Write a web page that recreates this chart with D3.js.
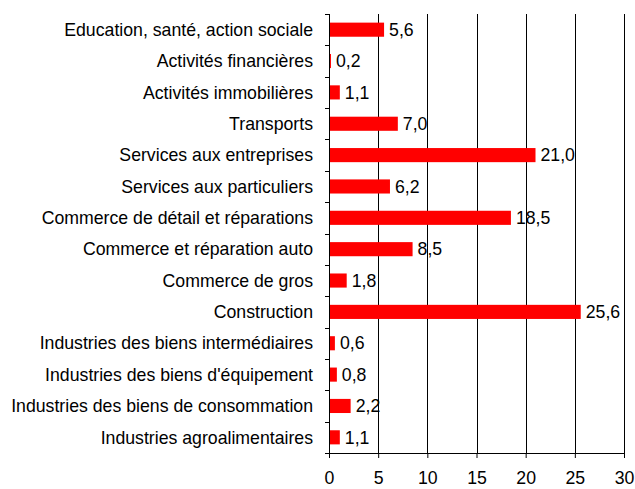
<!DOCTYPE html>
<html>
<head>
<meta charset="utf-8">
<script src="https://cdn.jsdelivr.net/npm/d3@7"></script>
<style>
  body { margin: 0; background: #fff; }
  text { font-family: "Liberation Sans", Arial, sans-serif; fill: #000; }
</style>
</head>
<body>
<div id="chart"></div>
<script>
// categories, top to bottom
let sectors = [
  "Education, santé, action sociale",
  "Activités financières",
  "Activités immobilières",
  "Transports",
  "Services aux entreprises",
  "Services aux particuliers",
  "Commerce de détail et réparations",
  "Commerce et réparation auto",
  "Commerce de gros",
  "Construction",
  "Industries des biens intermédiaires",
  "Industries des biens d'équipement",
  "Industries des biens de consommation",
  "Industries agroalimentaires"
];
let shares = [5.6, 0.2, 1.1, 7.0, 21.0, 6.2, 18.5, 8.5, 1.8, 25.6, 0.6, 0.8, 2.2, 1.1];
let xTicks = [0, 5, 10, 15, 20, 25, 30];

let fontSize = '17.7px';

let dimensions = {
  width: 635,
  height: 489,
  margin: { top: 14, right: 11, bottom: 36, left: 329 }
};
dimensions.boundedWidth = dimensions.width - dimensions.margin.left - dimensions.margin.right;
dimensions.boundedHeight = dimensions.height - dimensions.margin.top - dimensions.margin.bottom;

let svg = d3.select('#chart')
  .append('svg')
  .attr('width', dimensions.width)
  .attr('height', dimensions.height)
  .append('g')
  .attr('transform', `translate(${dimensions.margin.left},${dimensions.margin.top})`);

let x = d3.scaleLinear()
  .domain([0, 30])
  .range([0, dimensions.boundedWidth]);

let y = d3.scaleBand()
  .domain(sectors)
  .range([0, dimensions.boundedHeight])
  .paddingInner(0.55)
  .paddingOuter(0.275);

// vertical gridlines
svg.selectAll('line.grid')
  .data(xTicks.slice(1))
  .enter()
  .append('line')
  .attr('class', 'grid')
  .attr('x1', d => Math.round(x(d)) + 0.5)
  .attr('x2', d => Math.round(x(d)) + 0.5)
  .attr('y1', 0)
  .attr('y2', dimensions.boundedHeight)
  .style('stroke', '#000')
  .style('stroke-width', 1);

// bars
svg.selectAll('rect.bar')
  .data(sectors)
  .enter()
  .append('rect')
  .attr('class', 'bar')
  .attr('x', 0)
  .attr('y', d => y(d))
  .attr('width', (d, i) => x(shares[i]))
  .attr('height', y.bandwidth())
  .attr('fill', '#ff0000');

// value labels
svg.selectAll('text.val')
  .data(sectors)
  .enter()
  .append('text')
  .attr('class', 'val')
  .attr('x', (d, i) => x(shares[i]) + 5)
  .attr('y', d => y(d) + y.bandwidth() / 2)
  .attr('dy', '0.35em')
  .style('font-size', fontSize)
  .text((d, i) => d3.format('.1f')(shares[i]).replace('.', ','));

// y axis: category boundary ticks
let yAxis = svg.append('g');
yAxis.append('line')
  .attr('x1', 0.5).attr('x2', 0.5)
  .attr('y1', 0).attr('y2', dimensions.boundedHeight)
  .style('stroke', '#000');
let step = y.step();
yAxis.selectAll('line.tk')
  .data(d3.range(sectors.length + 1))
  .enter()
  .append('line')
  .attr('class', 'tk')
  .attr('x1', -4).attr('x2', 0)
  .attr('y1', i => Math.round(i * step) + 0.5)
  .attr('y2', i => Math.round(i * step) + 0.5)
  .style('stroke', '#000');
yAxis.selectAll('text.cat')
  .data(sectors)
  .enter()
  .append('text')
  .attr('class', 'cat')
  .attr('x', -16)
  .attr('y', d => y(d) + y.bandwidth() / 2)
  .attr('dy', '0.35em')
  .attr('text-anchor', 'end')
  .style('font-size', fontSize)
  .text(d => d);

// x axis
let xAxis = svg.append('g')
  .attr('transform', `translate(0,${dimensions.boundedHeight})`)
  .call(d3.axisBottom(x).tickValues(xTicks).tickSize(5).tickSizeOuter(0).tickPadding(13));
xAxis.select('.domain').style('stroke', '#000');
xAxis.selectAll('.tick line').style('stroke', '#000');
xAxis.selectAll('text')
  .style('font-size', fontSize)
  .style('font-family', '"Liberation Sans", Arial, sans-serif');
</script>
</body>
</html>
